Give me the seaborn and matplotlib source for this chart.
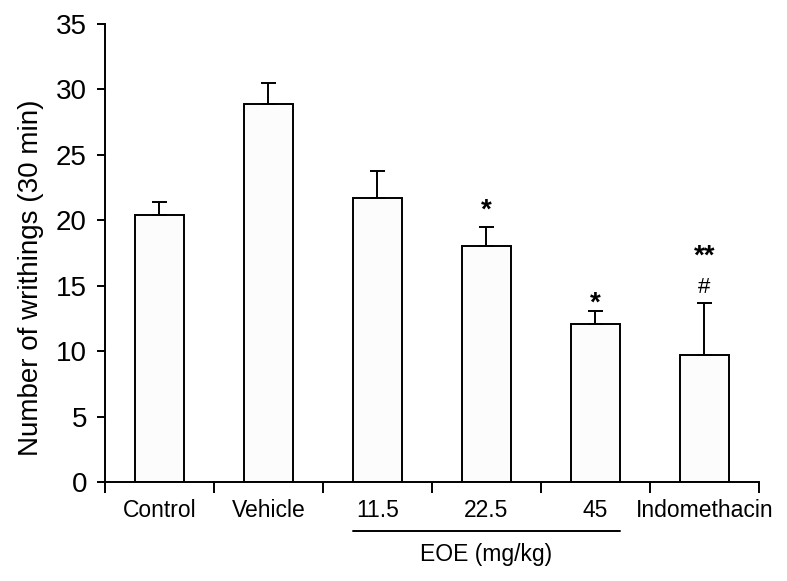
import matplotlib
matplotlib.use("Agg")
import matplotlib.pyplot as plt
import matplotlib.transforms as mtransforms
import seaborn as sns
import numpy as np

# data
groups = ["Control", "Vehicle", "11.5", "22.5", "45", "Indomethacin"]
writhings = [20.4, 28.9, 21.7, 18.0, 12.05, 9.7]
sem = [1.0, 1.6, 2.1, 1.45, 1.02, 4.0]
marks = ["", "", "", "*", "*", "**"]
mark_y = [0, 0, 0, 20.2, 13.1, 16.7]
hash_marks = ["", "", "", "", "", "#"]
hash_y = [0, 0, 0, 0, 0, 14.45]

sns.set_style("white")
plt.rcParams["font.family"] = ["Liberation Sans", "DejaVu Sans"]
plt.rcParams["text.color"] = "black"
plt.rcParams["axes.labelcolor"] = "black"
plt.rcParams["xtick.color"] = "black"
plt.rcParams["ytick.color"] = "black"

fig = plt.figure(figsize=(7.87, 5.81), dpi=100)
ax = fig.add_axes([0.1334, 0.1704, 0.831, 0.7883])

bar_w = 0.45
sns.barplot(x=groups, y=writhings, order=groups, width=bar_w, color="#fcfcfc",
            saturation=1, edgecolor="black", linewidth=1.4, errorbar=None, ax=ax)

xpos = np.arange(len(groups))
ax.errorbar(xpos, writhings, yerr=[np.zeros(len(sem)), sem], fmt="none",
            ecolor="black", elinewidth=1.4, capsize=5.4, capthick=1.4, zorder=1)

for x, m, y in zip(xpos, marks, mark_y):
    if m:
        ax.text(x, y, m, ha="center", va="baseline", fontsize=20,
                fontweight="bold")
for x, m, y in zip(xpos, hash_marks, hash_y):
    if m:
        ax.text(x, y, m, ha="center", va="baseline", fontsize=16)

ax.set_ylim(0, 35)
ax.set_xlim(-0.5, len(groups) - 0.5)
ax.set_yticks(range(0, 36, 5))
ax.set_xticks(xpos)
ax.set_xticks(np.arange(-0.5, len(groups), 1.0), minor=True)
ax.tick_params(axis="x", which="major", length=0, pad=12, labelsize=16.5)
ax.tick_params(axis="x", which="minor", length=7.7, width=1.4, direction="out",
               bottom=True, color="black")
ax.tick_params(axis="y", length=6, width=1.4, pad=7, labelsize=20, left=True,
               direction="out", color="black")
ax.set_ylabel("Number of writhings (30 min)", fontsize=20)
ax.yaxis.set_label_coords(-0.094, 0.445)
ax.set_xlabel("")

for side in ["top", "right"]:
    ax.spines[side].set_visible(False)
for side in ["left", "bottom"]:
    ax.spines[side].set_color("black")
    ax.spines[side].set_linewidth(1.4)

# EOE dose bracket under the three dose groups
trans = mtransforms.blended_transform_factory(ax.transData, ax.transAxes)
ax.plot([2 - bar_w / 2, 4 + bar_w / 2], [-0.107, -0.107], color="black",
        lw=1.4, transform=trans, clip_on=False)
ax.text(3, -0.159, "EOE (mg/kg)", transform=trans, ha="center", va="center",
        fontsize=16.5)

fig.savefig("out.png", dpi=100)
